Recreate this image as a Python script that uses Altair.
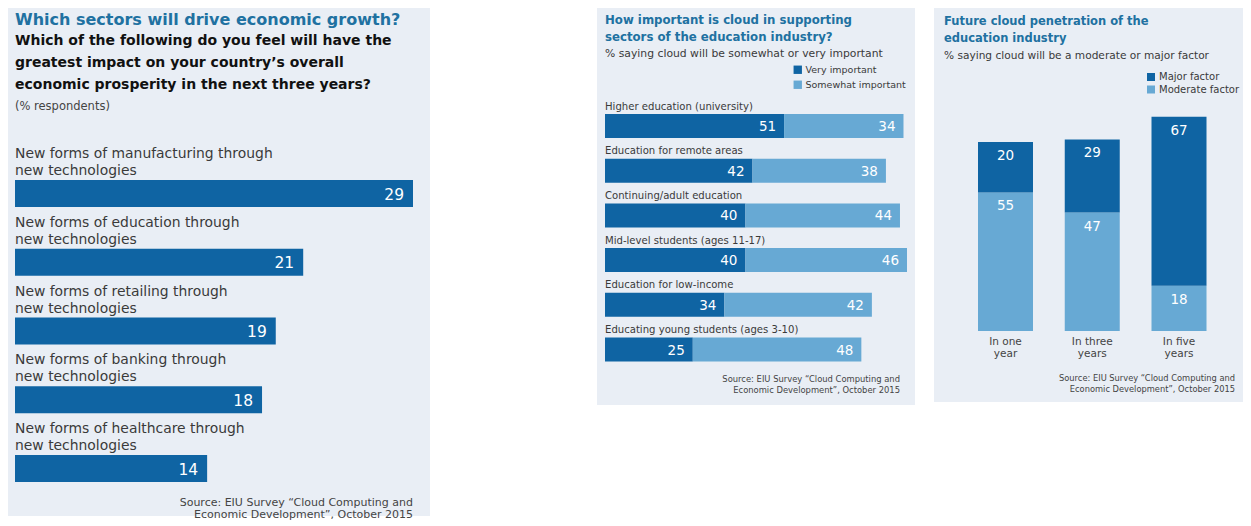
import altair as alt
import pandas as pd

FONT = "DejaVu Sans"
BG = "#e9eef5"
DARK = "#0f64a3"
LIGHT = "#67a9d4"
TEAL = "#2071a1"
TXT = "#3a3a3a"

# ---------------- data ----------------
# Panel 1
p1_title = "Which sectors will drive economic growth?"
p1_question = [
    "Which of the following do you feel will have the",
    "greatest impact on your country\u2019s overall",
    "economic prosperity in the next three years?",
]
p1_unit = "(% respondents)"
sectors = [
    "New forms of manufacturing through\nnew technologies",
    "New forms of education through\nnew technologies",
    "New forms of retailing through\nnew technologies",
    "New forms of banking through\nnew technologies",
    "New forms of healthcare through\nnew technologies",
]
sector_values = [29, 21, 19, 18, 14]

source_lines = [
    "Source: EIU Survey \u201cCloud Computing and",
    "Economic Development\u201d, October 2015",
]

# Panel 2
edu_title = ["How important is cloud in supporting", "sectors of the education industry?"]
edu_sub = "% saying cloud will be somewhat or very important"
edu_sectors = [
    "Higher education (university)",
    "Education for remote areas",
    "Continuing/adult education",
    "Mid-level students (ages 11-17)",
    "Education for low-income",
    "Educating young students (ages 3-10)",
]
very_important = [51, 42, 40, 40, 34, 25]
somewhat_important = [34, 38, 44, 46, 42, 48]
edu_levels = ["Very important", "Somewhat important"]

# Panel 3
pen_title = ["Future cloud penetration of the", "education industry"]
pen_sub = "% saying cloud will be a moderate or major factor"
horizons = ["In one\nyear", "In three\nyears", "In five\nyears"]
major_factor = [20, 29, 67]
moderate_factor = [55, 47, 18]
pen_levels = ["Major factor", "Moderate factor"]

# ---------------- tables ----------------
df1 = pd.DataFrame({"idx": range(len(sectors)), "label": sectors,
                    "value": sector_values, "zero": 0})

rows2 = []
for i, (c, v, s) in enumerate(zip(edu_sectors, very_important, somewhat_important)):
    rows2.append({"idx": i, "segment": edu_levels[0], "order": 0, "value": v})
    rows2.append({"idx": i, "segment": edu_levels[1], "order": 1, "value": s})
df2 = pd.DataFrame(rows2)
df2c = pd.DataFrame({"idx": range(len(edu_sectors)), "label": edu_sectors, "zero": 0})

rows3 = []
for i, (h, mj, md) in enumerate(zip(horizons, major_factor, moderate_factor)):
    rows3.append({"idx": i, "factor": pen_levels[1], "order": 0, "value": md})
    rows3.append({"idx": i, "factor": pen_levels[0], "order": 1, "value": mj})
df3 = pd.DataFrame(rows3)
df3c = pd.DataFrame({"idx": range(len(horizons)), "label": horizons, "zero": 0})


def header(lines, x, y, size, weight="normal", color=TXT, lh=None, align="left"):
    kw = dict(align=align, baseline="alphabetic", font=FONT, fontSize=size,
              fontWeight=weight, color=color)
    if lh is not None:
        kw["lineHeight"] = lh
    return alt.Chart(alt.Data(values=[{}])).mark_text(**kw).encode(
        x=alt.value(x), y=alt.value(y), text=alt.value(lines))


# ---------------- panel 1 ----------------
W1, H1 = 422, 508
x1 = alt.Scale(domain=[0, max(sector_values)], range=[7, 405], padding=0, nice=False)
y1 = alt.Scale(domain=[0, len(sectors) - 1], range=[185.5, 460.5], padding=0, nice=False)
X1 = lambda f: alt.X(f, type="quantitative", scale=x1, axis=None)
Y1 = alt.Y("idx:Q", scale=y1, axis=None)

bars1 = alt.Chart(df1).mark_bar(orient="horizontal", size=27, color=DARK).encode(
    x=X1("value"), y=Y1)
cat1 = alt.Chart(df1).mark_text(align="left", baseline="alphabetic", lineBreak="\n",
                                lineHeight=17, dy=-35.5, font=FONT, fontSize=13.9,
                                color=TXT).encode(x=X1("zero"), y=Y1, text="label:N")
val1 = alt.Chart(df1).mark_text(align="right", baseline="middle", dx=-9, dy=1,
                                font=FONT, fontSize=15.5, color="white").encode(
    x=X1("value"), y=Y1, text="value:Q")

p1 = alt.layer(
    header(p1_title, 7, 17, 16, "bold", TEAL),
    header(p1_question, 7, 37, 14, "bold", "#111111", lh=22),
    header(p1_unit, 7, 102, 11.5, color="#444444"),
    bars1, cat1, val1,
    header(source_lines, 405, 498, 11, color="#444444", lh=12, align="right"),
).properties(width=W1, height=H1)

# ---------------- panel 2 ----------------
W2, H2 = 318, 397
max2 = max(v + s for v, s in zip(very_important, somewhat_important))
x2s = alt.Scale(domain=[0, max2], range=[8, 310], padding=0, nice=False)
y2s = alt.Scale(domain=[0, len(edu_sectors) - 1], range=[118, 341.5], padding=0, nice=False)
Y2 = alt.Y("idx:Q", scale=y2s, axis=None)

base2 = alt.Chart(df2).transform_stack(
    stack="value", groupby=["idx"], as_=["x0", "x1"],
    sort=[alt.SortField("order", order="ascending")])
bars2 = base2.mark_bar(orient="horizontal", size=24).encode(
    x=alt.X("x0:Q", scale=x2s, axis=None), x2="x1:Q", y=Y2,
    color=alt.Color("segment:N", scale=alt.Scale(domain=edu_levels, range=[DARK, LIGHT]),
                    legend=alt.Legend(title=None, orient="none", legendX=196, legendY=57,
                                      direction="vertical", symbolType="square",
                                      symbolSize=70, symbolStrokeWidth=0,
                                      labelFont=FONT, labelFontSize=9.5,
                                      labelColor=TXT, rowPadding=4, labelOffset=3,
                                      padding=0)))
val2 = base2.mark_text(align="right", baseline="middle", dx=-8, dy=1, font=FONT,
                       fontSize=13.5, color="white").encode(
    x=alt.X("x1:Q", scale=x2s, axis=None), y=Y2, text="value:Q")
cat2 = alt.Chart(df2c).mark_text(align="left", baseline="alphabetic", dy=-16.5,
                                 font=FONT, fontSize=10.1, color=TXT).encode(
    x=alt.X("zero:Q", scale=x2s, axis=None), y=Y2, text="label:N")

p2 = alt.layer(
    header(edu_title, 8, 15.5, 11.75, "bold", TEAL, lh=17.5),
    header(edu_sub, 8, 49, 10.8, color=TXT),
    bars2, val2, cat2,
    header(source_lines, 303, 374, 8.4, color="#444444", lh=10.5, align="right"),
).properties(width=W2, height=H2)

# ---------------- panel 3 ----------------
W3, H3 = 309, 394
max3 = max(a + b for a, b in zip(major_factor, moderate_factor))
x3s = alt.Scale(domain=[0, len(horizons) - 1], range=[71.5, 245], padding=0, nice=False)
y3s = alt.Scale(domain=[0, max3], range=[323, 323 - max3 * 2.52], padding=0, nice=False)
X3 = alt.X("idx:Q", scale=x3s, axis=None)

base3 = alt.Chart(df3).transform_stack(
    stack="value", groupby=["idx"], as_=["y0", "y1"],
    sort=[alt.SortField("order", order="ascending")])
bars3 = base3.mark_bar(orient="vertical", size=55).encode(
    x=X3, y=alt.Y("y0:Q", scale=y3s, axis=None), y2="y1:Q",
    color=alt.Color("factor:N", scale=alt.Scale(domain=pen_levels, range=[DARK, LIGHT]),
                    legend=alt.Legend(title=None, orient="none", legendX=212, legendY=64,
                                      direction="vertical", symbolType="square",
                                      symbolSize=64, symbolStrokeWidth=0,
                                      labelFont=FONT, labelFontSize=10,
                                      labelColor=TXT, rowPadding=2.5, labelOffset=3,
                                      padding=0)))
val3 = base3.mark_text(align="center", baseline="middle", dy=14, font=FONT,
                       fontSize=13.5, color="white").encode(
    x=X3, y=alt.Y("y1:Q", scale=y3s, axis=None), text="value:Q")
cat3 = alt.Chart(df3c).mark_text(align="center", baseline="top", dy=6, lineBreak="\n",
                                 lineHeight=12, font=FONT, fontSize=10.5,
                                 color="#444444").encode(
    x=X3, y=alt.Y("zero:Q", scale=y3s, axis=None), text="label:N")

p3 = alt.layer(
    header(pen_title, 10, 17, 11.5, "bold", TEAL, lh=16.5),
    header(pen_sub, 10, 51, 10.6, color=TXT),
    bars3, val3, cat3,
    header(source_lines, 301, 373, 8.3, color="#444444", lh=10.5, align="right"),
).properties(width=W3, height=H3)

right = alt.hconcat(p2, p3, spacing=19).resolve_scale(color="independent")
chart = alt.hconcat(p1, right, spacing=167).resolve_scale(color="independent").properties(
    padding=0, background="white"
).configure_view(fill=BG, strokeWidth=0)

chart.save("out.html", embed_options={"renderer": "svg", "actions": False})
